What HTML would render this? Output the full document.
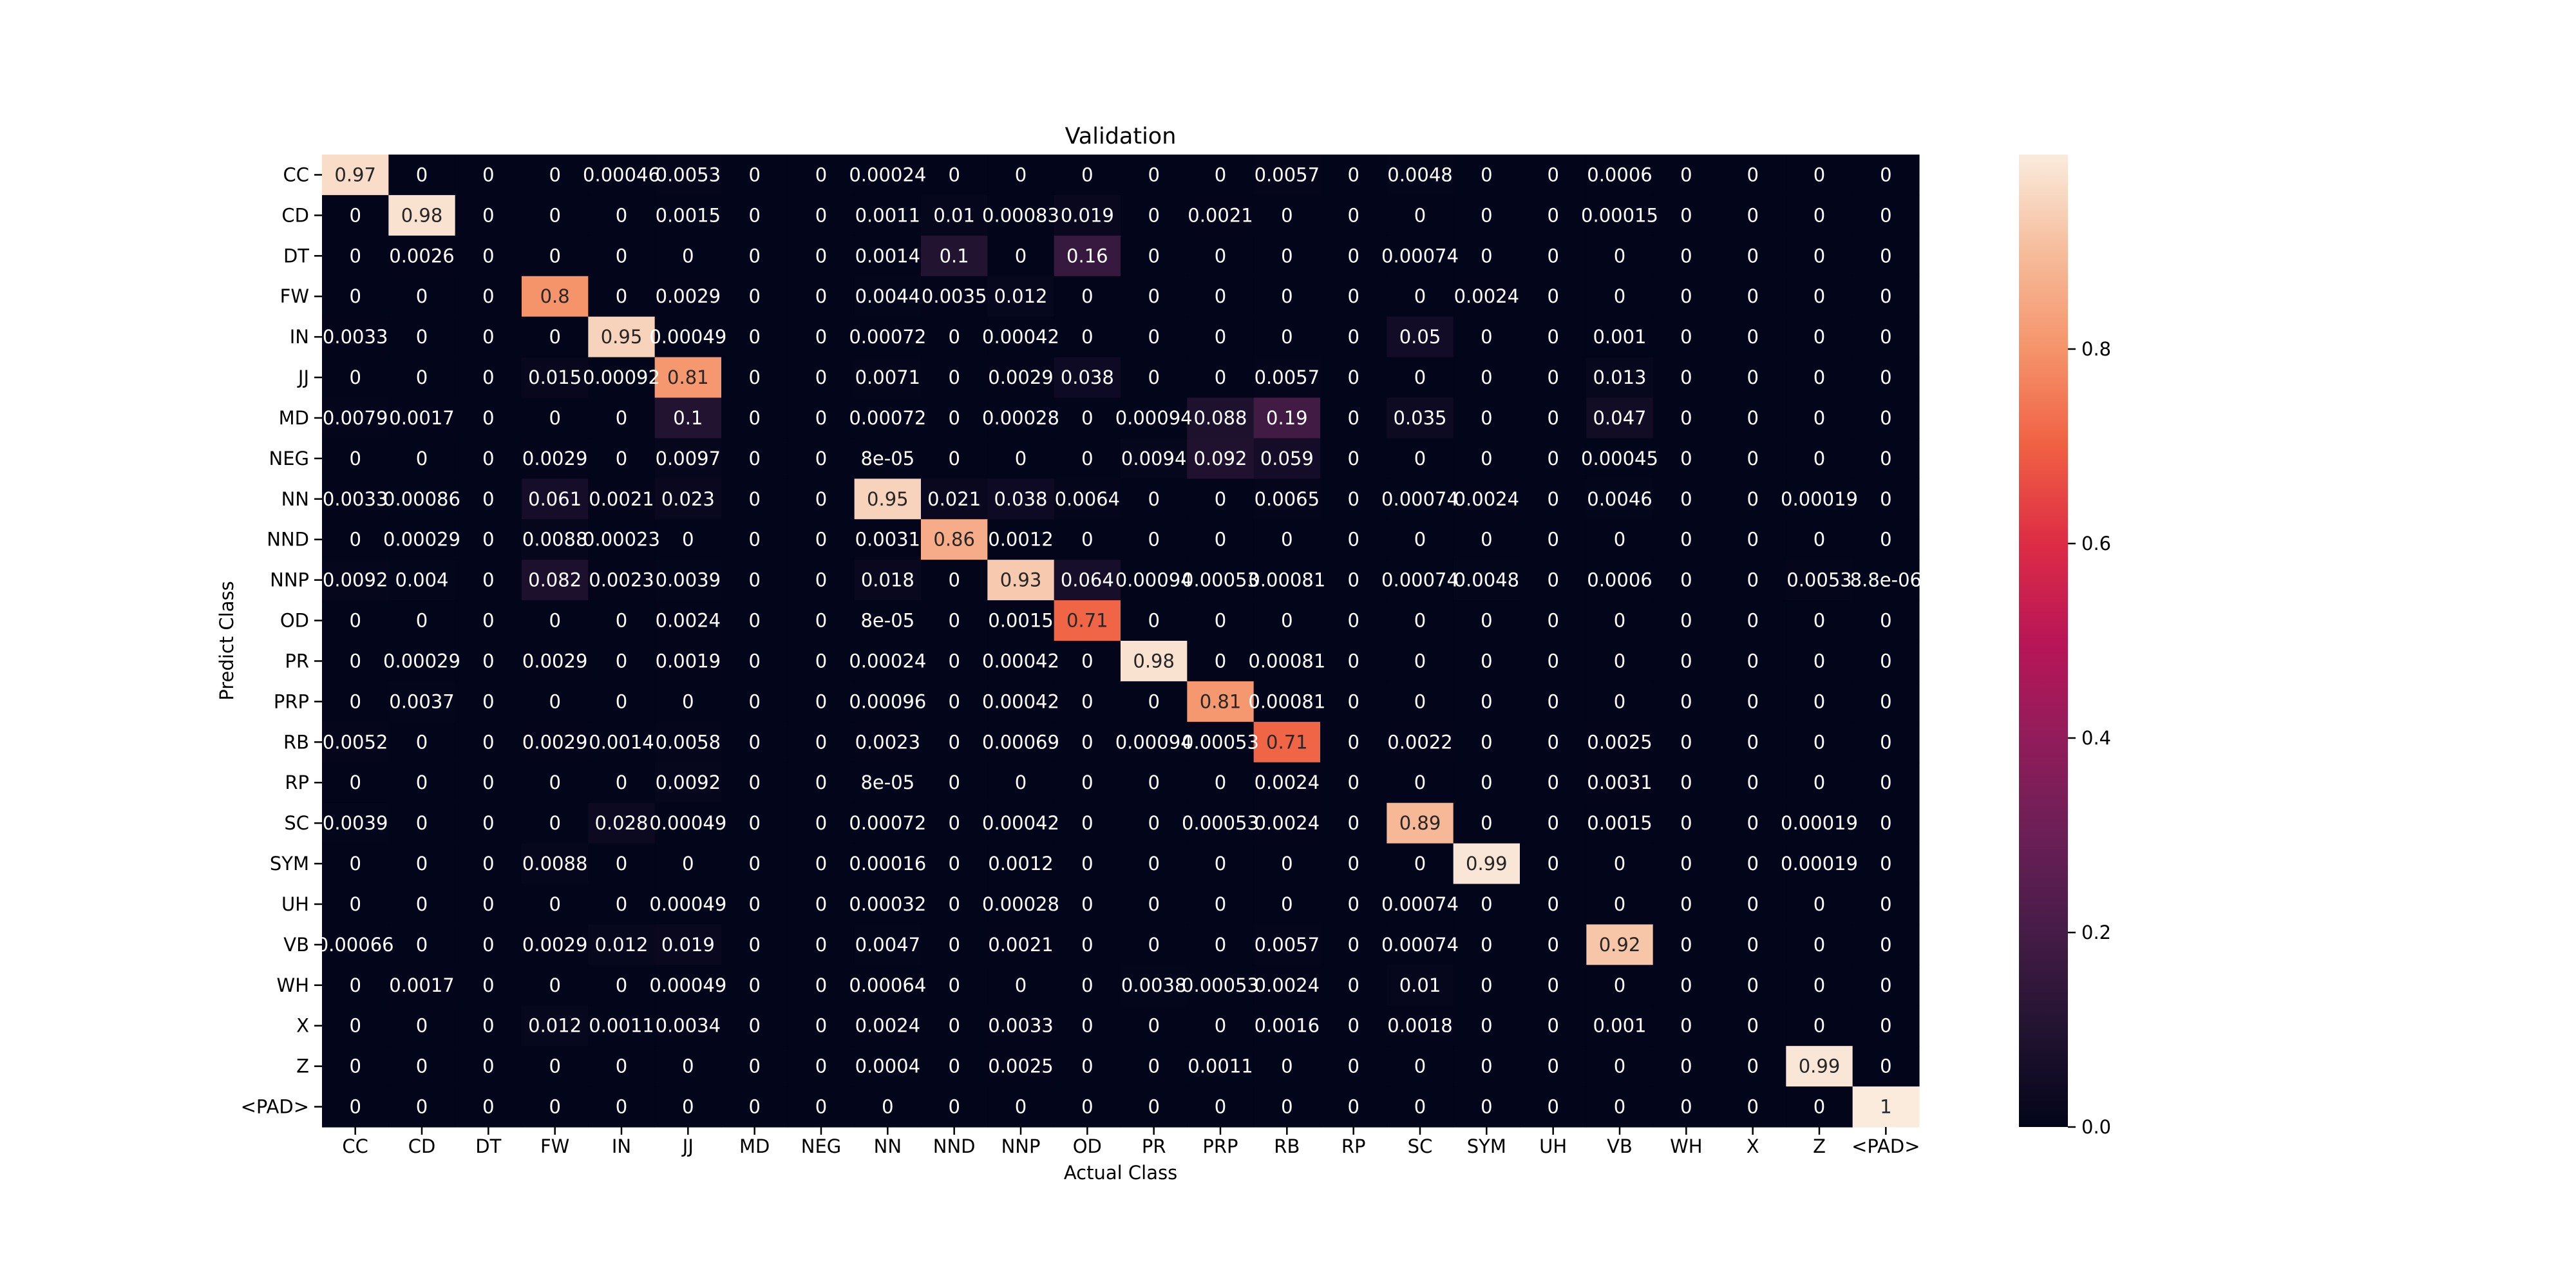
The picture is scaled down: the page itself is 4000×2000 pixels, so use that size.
<!DOCTYPE html>
<html><head><meta charset="utf-8"><style>
html,body{margin:0;padding:0;background:#fff;}
svg{display:block;font-family:"DejaVu Sans","Liberation Sans",sans-serif;}
</style></head><body>
<svg id="chart" width="4000" height="2000" viewBox="0 0 4000 2000" xmlns="http://www.w3.org/2000/svg">
<defs>
<linearGradient id="rocket" x1="0" y1="1" x2="0" y2="0">
<stop offset="0" stop-color="#03051A"/><stop offset="0.1" stop-color="#221331"/><stop offset="0.2" stop-color="#451C47"/><stop offset="0.3" stop-color="#6B1F56"/><stop offset="0.4" stop-color="#921C5B"/><stop offset="0.5" stop-color="#B91657"/><stop offset="0.6" stop-color="#DD2C45"/><stop offset="0.7" stop-color="#F06043"/><stop offset="0.8" stop-color="#F5946B"/><stop offset="0.9" stop-color="#F6BC9B"/><stop offset="1" stop-color="#FAEBDD"/>
</linearGradient>
</defs>
<rect width="4000" height="2000" fill="#fff"/>
<text x="1740" y="223" font-size="35" text-anchor="middle" fill="#000">Validation</text>
<text x="1740" y="1831" font-size="29" text-anchor="middle" fill="#000">Actual Class</text>
<text x="0" y="0" font-size="29" text-anchor="middle" fill="#000" transform="translate(362,995) rotate(-90)">Predict Class</text>
<g id="cells"></g>
<g id="labels"></g>
<g id="xticks"></g>
<g id="yticks"></g>
<rect x="3135" y="240" width="76" height="1510" fill="url(#rocket)"/>
<g id="cticks"></g>
</svg>
<script>
const classes = ["CC","CD","DT","FW","IN","JJ","MD","NEG","NN","NND","NNP","OD","PR","PRP","RB","RP","SC","SYM","UH","VB","WH","X","Z","<PAD>"];
const matrix = [
[0.97,0,0,0,0.00046,0.0053,0,0,0.00024,0,0,0,0,0,0.0057,0,0.0048,0,0,0.0006,0,0,0,0],
[0,0.98,0,0,0,0.0015,0,0,0.0011,0.01,0.00083,0.019,0,0.0021,0,0,0,0,0,0.00015,0,0,0,0],
[0,0.0026,0,0,0,0,0,0,0.0014,0.1,0,0.16,0,0,0,0,0.00074,0,0,0,0,0,0,0],
[0,0,0,0.8,0,0.0029,0,0,0.0044,0.0035,0.012,0,0,0,0,0,0,0.0024,0,0,0,0,0,0],
[0.0033,0,0,0,0.95,0.00049,0,0,0.00072,0,0.00042,0,0,0,0,0,0.05,0,0,0.001,0,0,0,0],
[0,0,0,0.015,0.00092,0.81,0,0,0.0071,0,0.0029,0.038,0,0,0.0057,0,0,0,0,0.013,0,0,0,0],
[0.0079,0.0017,0,0,0,0.1,0,0,0.00072,0,0.00028,0,0.00094,0.088,0.19,0,0.035,0,0,0.047,0,0,0,0],
[0,0,0,0.0029,0,0.0097,0,0,8e-05,0,0,0,0.0094,0.092,0.059,0,0,0,0,0.00045,0,0,0,0],
[0.0033,0.00086,0,0.061,0.0021,0.023,0,0,0.95,0.021,0.038,0.0064,0,0,0.0065,0,0.00074,0.0024,0,0.0046,0,0,0.00019,0],
[0,0.00029,0,0.0088,0.00023,0,0,0,0.0031,0.86,0.0012,0,0,0,0,0,0,0,0,0,0,0,0,0],
[0.0092,0.004,0,0.082,0.0023,0.0039,0,0,0.018,0,0.93,0.064,0.00094,0.00053,0.00081,0,0.00074,0.0048,0,0.0006,0,0,0.0053,8.8e-06],
[0,0,0,0,0,0.0024,0,0,8e-05,0,0.0015,0.71,0,0,0,0,0,0,0,0,0,0,0,0],
[0,0.00029,0,0.0029,0,0.0019,0,0,0.00024,0,0.00042,0,0.98,0,0.00081,0,0,0,0,0,0,0,0,0],
[0,0.0037,0,0,0,0,0,0,0.00096,0,0.00042,0,0,0.81,0.00081,0,0,0,0,0,0,0,0,0],
[0.0052,0,0,0.0029,0.0014,0.0058,0,0,0.0023,0,0.00069,0,0.00094,0.00053,0.71,0,0.0022,0,0,0.0025,0,0,0,0],
[0,0,0,0,0,0.0092,0,0,8e-05,0,0,0,0,0,0.0024,0,0,0,0,0.0031,0,0,0,0],
[0.0039,0,0,0,0.028,0.00049,0,0,0.00072,0,0.00042,0,0,0.00053,0.0024,0,0.89,0,0,0.0015,0,0,0.00019,0],
[0,0,0,0.0088,0,0,0,0,0.00016,0,0.0012,0,0,0,0,0,0,0.99,0,0,0,0,0.00019,0],
[0,0,0,0,0,0.00049,0,0,0.00032,0,0.00028,0,0,0,0,0,0.00074,0,0,0,0,0,0,0],
[0.00066,0,0,0.0029,0.012,0.019,0,0,0.0047,0,0.0021,0,0,0,0.0057,0,0.00074,0,0,0.92,0,0,0,0],
[0,0.0017,0,0,0,0.00049,0,0,0.00064,0,0,0,0.0038,0.00053,0.0024,0,0.01,0,0,0,0,0,0,0],
[0,0,0,0.012,0.0011,0.0034,0,0,0.0024,0,0.0033,0,0,0,0.0016,0,0.0018,0,0,0.001,0,0,0,0],
[0,0,0,0,0,0,0,0,0.0004,0,0.0025,0,0,0.0011,0,0,0,0,0,0,0,0,0.99,0],
[0,0,0,0,0,0,0,0,0,0,0,0,0,0,0,0,0,0,0,0,0,0,0,1]
];
const colorbarTicks = [0, 0.2, 0.4, 0.6, 0.8];
const colorbarLabels = ["0.0","0.2","0.4","0.6","0.8"];

const NS = "http://www.w3.org/2000/svg";
const L = 500, T = 240, R = 2980, B = 1750;
const vmin = 0, vmax = 1;
const FS = 29;
const cw = (R - L) / classes.length, ch = (B - T) / classes.length;
const xScale = i => L + i * cw;
const yScale = i => T + i * ch;
const cbTop = 240, cbBot = 1750;
const cbScale = v => cbBot - (v - vmin) / (vmax - vmin) * (cbBot - cbTop);

const stops = [[0,[3,5,26]],[0.1,[34,19,49]],[0.2,[69,28,71]],[0.3,[107,31,86]],[0.4,[146,28,91]],[0.5,[185,22,87]],[0.6,[221,44,69]],[0.7,[240,96,67]],[0.8,[245,148,107]],[0.9,[246,188,155]],[1,[250,235,221]]];
function cmap(v){
  let t = Math.max(0, Math.min(1, (v - vmin) / (vmax - vmin)));
  for (let k = 0; k < stops.length - 1; k++) {
    const [a, ca] = stops[k], [b, cb] = stops[k+1];
    if (t <= b) { const f = (t - a) / (b - a);
      return ca.map((c, j) => Math.round(c + f * (cb[j] - c))); }
  }
  return stops[stops.length-1][1];
}
function fmt(v){
  if (v === 0) return "0";
  if (Math.abs(v) < 1e-4) {
    let s = v.toExponential(1); let [m, e] = s.split("e");
    m = m.replace(/\.?0+$/, ""); const sign = e[0] === "-" ? "-" : "+";
    let d = e.replace(/^[+-]/, ""); if (d.length < 2) d = "0" + d;
    return m + "e" + sign + d;
  }
  return String(Number(v.toPrecision(2)));
}
const cells = document.getElementById("cells");
const labels = document.getElementById("labels");
matrix.forEach((row, r) => row.forEach((v, c) => {
  const col = cmap(v);
  const rect = document.createElementNS(NS, "rect");
  rect.setAttribute("x", xScale(c)); rect.setAttribute("y", yScale(r));
  rect.setAttribute("width", cw + 0.6); rect.setAttribute("height", ch + 0.6);
  rect.setAttribute("fill", `rgb(${col[0]},${col[1]},${col[2]})`);
  
  
  cells.appendChild(rect);
  const lum = (0.299*col[0] + 0.587*col[1] + 0.114*col[2]) / 255;
  const tx = document.createElementNS(NS, "text");
  tx.setAttribute("x", xScale(c) + cw/2); tx.setAttribute("y", yScale(r) + ch/2 + 10);
  tx.setAttribute("font-size", FS); tx.setAttribute("text-anchor", "middle");
  tx.setAttribute("fill", lum > 0.45 ? "#262626" : "#ffffff");
  tx.textContent = fmt(v);
  
  
  labels.appendChild(tx);
}));
const xt = document.getElementById("xticks"), yt = document.getElementById("yticks");
classes.forEach((name, i) => {
  const cx = xScale(i) + cw/2;
  const ln = document.createElementNS(NS, "line");
  ln.setAttribute("x1", cx); ln.setAttribute("x2", cx); ln.setAttribute("y1", B); ln.setAttribute("y2", B + 12);
  ln.setAttribute("stroke", "#000"); ln.setAttribute("stroke-width", "2.5");
  
  
  xt.appendChild(ln);
  const t = document.createElementNS(NS, "text");
  t.setAttribute("x", cx); t.setAttribute("y", 1790); t.setAttribute("font-size", FS);
  t.setAttribute("text-anchor", "middle"); t.textContent = name;
  
  
  xt.appendChild(t);
  const cy = yScale(i) + ch/2;
  const ln2 = document.createElementNS(NS, "line");
  ln2.setAttribute("x1", L - 12); ln2.setAttribute("x2", L); ln2.setAttribute("y1", cy); ln2.setAttribute("y2", cy);
  ln2.setAttribute("stroke", "#000"); ln2.setAttribute("stroke-width", "2.5");
  
  
  yt.appendChild(ln2);
  const t2 = document.createElementNS(NS, "text");
  t2.setAttribute("x", L - 20); t2.setAttribute("y", cy + 10); t2.setAttribute("font-size", FS);
  t2.setAttribute("text-anchor", "end"); t2.textContent = name;
  
  
  yt.appendChild(t2);
});
const ct = document.getElementById("cticks");
colorbarTicks.forEach((v, i) => {
  const y = cbScale(v);
  const ln = document.createElementNS(NS, "line");
  ln.setAttribute("x1", 3211); ln.setAttribute("x2", 3223); ln.setAttribute("y1", y); ln.setAttribute("y2", y);
  ln.setAttribute("stroke", "#000"); ln.setAttribute("stroke-width", "2.5");
  
  
  ct.appendChild(ln);
  const t = document.createElementNS(NS, "text");
  t.setAttribute("x", 3232); t.setAttribute("y", y + 10); t.setAttribute("font-size", FS);
  t.textContent = colorbarLabels[i];
  
  
  ct.appendChild(t);
});
</script>
</body></html>
